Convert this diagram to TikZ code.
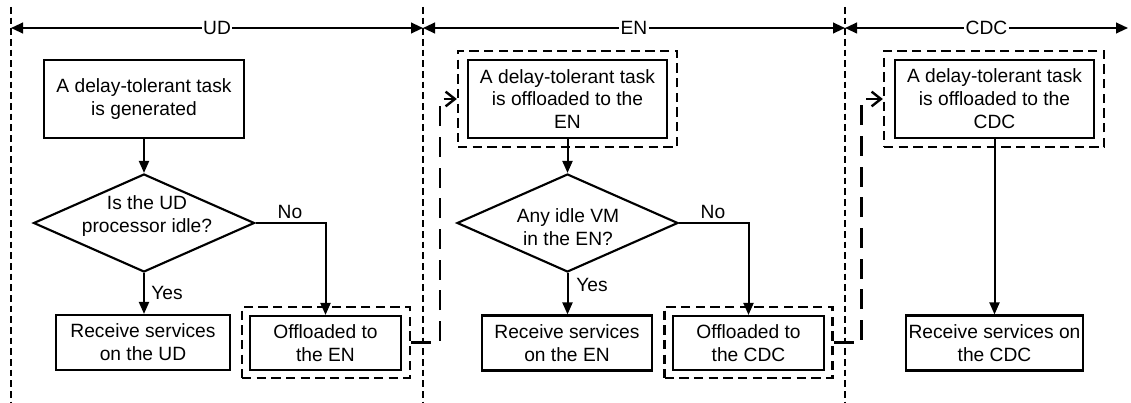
\documentclass[tikz,border=0pt]{standalone}
\usepackage{fontspec}
\setmainfont{Liberation Sans}
\usetikzlibrary{arrows.meta,shapes.geometric}

\begin{document}
\begin{tikzpicture}[x=0.75pt,y=-0.75pt,
  every node/.style={font=\fontsize{14.4}{17.2}\selectfont},
  box/.style={draw,line width=1.6pt,align=center,inner sep=0pt},
  frame/.style={draw,line width=1.7pt,dash pattern=on 7pt off 4pt,inner sep=0pt},
  decision/.style={draw,diamond,line width=1.6pt,inner sep=0pt,
    minimum width=165.75pt,minimum height=73.5pt},
  flow/.style={line width=1.5pt,-{Triangle[length=9pt,width=7.5pt]}},
  link/.style={line width=1.8pt,dash pattern=on 15pt off 8pt,
    -{Straight Barb[length=7pt,width=11pt,line width=1.8pt]}},
  divider/.style={line width=1.3pt,dash pattern=on 5pt off 3pt},
  span/.style={line width=1.5pt,{Triangle[length=9pt,width=8pt]}-{Triangle[length=9pt,width=8pt]}},
  lane/.style={fill=white,inner sep=1pt},
  tag/.style={inner sep=0pt}
]
\path[fill=white,use as bounding box] (0,0) rectangle (1131,403);

% lane dividers
\coordinate (v0t) at (11,7);   \coordinate (v0b) at (11,403);
\coordinate (v1t) at (423,7);  \coordinate (v1b) at (423,403);
\coordinate (v2t) at (845,7);  \coordinate (v2b) at (845,403);
\draw[divider] (v0t) -- (v0b);
\draw[divider] (v1t) -- (v1b);
\draw[divider] (v2t) -- (v2b);

% lane headers
\coordinate (h0) at (11,28);
\coordinate (h1) at (423,28);
\coordinate (h2) at (845,28);
\coordinate (h3) at (1128,28);
\draw[span] (h0) -- node[lane] (lud) {UD} (h1);
\draw[span] (h1) -- node[lane] (len) {EN} (h2);
\draw[span] (h2) -- node[lane] (lcdc) {CDC} (h3);

% UD lane
\node[box,minimum width=150pt,minimum height=58.5pt] (u1) at (144,99)
  {A delay-tolerant task\\is generated};
\node[decision] (u2) at (144,223) {};
\node[align=center,tag] (u2t) at (147,216) {Is the UD\\processor idle?};
\node[box,minimum width=130.5pt,minimum height=41.25pt] (u3) at (143,342.5)
  {Receive services\\on the UD};
\node[frame,minimum width=126pt,minimum height=53.25pt] (u4o) at (326,342.5) {};
\node[box,minimum width=113.25pt,minimum height=40.5pt] (u4) at (325.5,343)
  {Offloaded to\\the EN};
\draw[flow] (u1.south) -- (u2.north);
\draw[flow] (u2.south) -- (u2.south |- u3.north);
\draw[flow] (u2.east) -| (u4.north);
\node[tag] (no1) at (290,212) {No};
\node[tag] (yes1) at (167,293) {Yes};

% EN lane
\node[frame,minimum width=164.25pt,minimum height=72pt] (e1o) at (567.5,99) {};
\node[box,minimum width=149.25pt,minimum height=58.5pt] (e1) at (567.5,99)
  {A delay-tolerant task\\is offloaded to the\\EN};
\node[decision] (e2) at (567.5,223) {};
\node[align=center,tag] (e2t) at (568,227) {Any idle VM\\in the EN?};
\node[box,minimum width=127.5pt,minimum height=41.25pt] (e3) at (567,343)
  {Receive services\\on the EN};
\node[frame,minimum width=126pt,minimum height=53.25pt] (e4o) at (748.5,342.5) {};
\node[box,minimum width=113.25pt,minimum height=40.5pt] (e4) at (748.5,343)
  {Offloaded to\\the CDC};
\draw[flow] (e1.south) -- (e2.north);
\draw[flow] (e2.south) -- (e2.south |- e3.north);
\draw[flow] (e2.east) -| (e4.north);
\node[tag] (no2) at (713,212) {No};
\node[tag] (yes2) at (592,285) {Yes};

% CDC lane
\node[frame,minimum width=165pt,minimum height=72pt] (c1o) at (994,99) {};
\node[box,minimum width=149.25pt,minimum height=58.5pt] (c1) at (994.5,99)
  {A delay-tolerant task\\is offloaded to the\\CDC};
\node[box,minimum width=132.75pt,minimum height=41.25pt] (c3) at (994.5,343)
  {Receive services on\\the CDC};
\draw[flow] (c1.south) -- (c3.north);

% hand-over between lanes
\draw[link] (u4o.east) -- ++(29,0) |- (e1o.west);
\draw[link] (e4o.east) -- ++(28,0) |- (c1o.west);
\end{tikzpicture}
\end{document}
